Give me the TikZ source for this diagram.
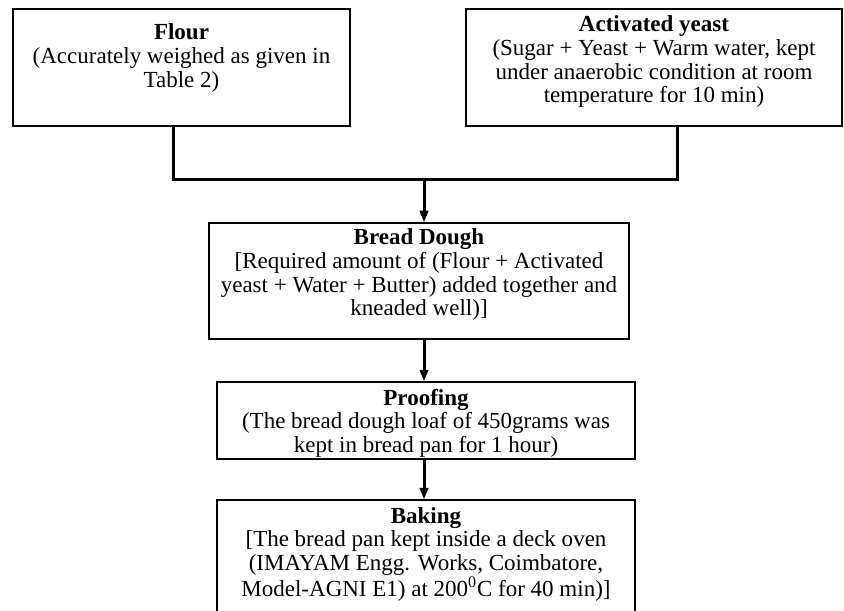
\documentclass[tikz,border=0pt]{standalone}
\usepackage{fontspec}
\setmainfont{Liberation Serif}
\usetikzlibrary{arrows.meta}
\begin{document}
\begin{tikzpicture} [x = 0.6pt, y = -0.6pt, font = \fontsize{13.8}{14.2}\selectfont,
	stage/.style = {draw, line width = 0.7pt, inner sep = 0pt},
	flow/.style = {line width = 1.8pt},
	arr/.style = {flow, -{Triangle[length = 7pt, width = 5pt]}}]
	\useasboundingbox (0,0) rectangle (844,611);
	\scope
	\clip (0,0) rectangle (844,611);
	\node [stage] (flour) at (181.5,67.5) {\parbox[c][70.2pt][t]{202.2pt}{\centering\rule{0pt}{18.6pt}\textbf{Flour}\\(Accurately weighed as given in\\Table 2)}};
	\node [stage] (yeast) at (654,67.5) {\parbox[c][70.2pt][t]{225.6pt}{\centering\rule{0pt}{13.8pt}\textbf{Activated yeast}\\(Sugar + Yeast + Warm water, kept\\under anaerobic condition at room\\temperature for 10 min)}};
	\node [stage] (dough) at (419,281) {\parbox[c][69.6pt][t]{252pt}{\centering\rule{0pt}{13.2pt}\textbf{Bread Dough}\\{}[Required amount of (Flour + Activated\\yeast + Water + Butter) added together and\\kneaded well)]}};
	\node [stage] (proof) at (426,420.5) {\parbox[c][46.2pt][t]{250.8pt}{\centering\rule{0pt}{13.8pt}\textbf{Proofing}\\(The bread dough loaf of 450grams was\\kept in bread pan for 1 hour)}};
	\node [stage] (bake) at (426,565) {\parbox[c][78pt][t]{250.8pt}{\centering\rule{0pt}{13.8pt}\textbf{Baking}\\{}[The bread pan kept inside a deck oven\\(IMAYAM Engg. Works, Coimbatore,\\Model-AGNI E1) at 200\textsuperscript{0}C for 40 min)]}};
	\coordinate (join) at (424,180);
	\draw [flow] ([xshift = -5.1pt]flour.south) |- (join);
	\draw [flow] ([xshift = 13.8pt]yeast.south) |- (join);
	\draw [arr] (join) -- (join |- dough.north);
	\draw [arr] (dough.south -| join) -- (proof.north -| join);
	\draw [arr] (proof.south -| join) -- (bake.north -| join);
	\endscope
\end{tikzpicture}
\end{document}
